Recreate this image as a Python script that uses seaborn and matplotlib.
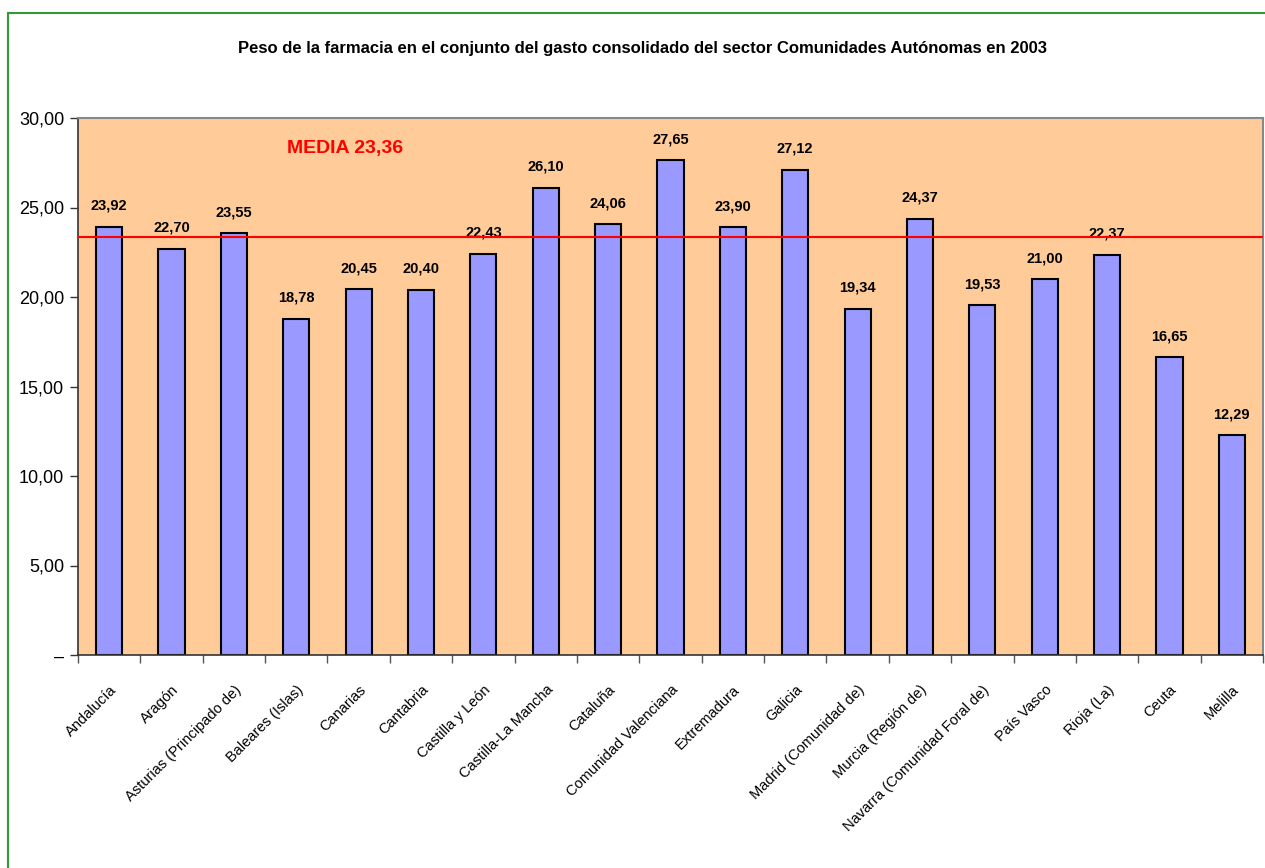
import numpy as np
import pandas as pd
import matplotlib
matplotlib.use("Agg")
import matplotlib.pyplot as plt
import matplotlib.patches as mpatches
from matplotlib.ticker import FixedLocator, FuncFormatter
import seaborn as sns

# data
regions = ["Andalucía", "Aragón", "Asturias (Principado de)", "Baleares (Islas)",
           "Canarias", "Cantabria", "Castilla y León", "Castilla-La Mancha",
           "Cataluña", "Comunidad Valenciana", "Extremadura", "Galicia",
           "Madrid (Comunidad de)", "Murcia (Región de)", "Navarra (Comunidad Foral de)",
           "País Vasco", "Rioja (La)", "Ceuta", "Melilla"]
peso = [23.92, 22.70, 23.55, 18.78, 20.45, 20.40, 22.43, 26.10, 24.06, 27.65,
        23.90, 27.12, 19.34, 24.37, 19.53, 21.00, 22.37, 16.65, 12.29]
media = 23.36
yticks = [0, 5, 10, 15, 20, 25, 30]

title = "Peso de la farmacia en el conjunto del gasto consolidado del sector Comunidades Autónomas en 2003"

df = pd.DataFrame({"region": regions, "peso": peso})

def coma(v):
    return f"{v:.2f}".replace(".", ",")

sns.set_style("white")
plt.rcParams['font.family'] = ['Liberation Sans', 'DejaVu Sans']
plt.rcParams['text.color'] = 'black'
plt.rcParams['xtick.color'] = 'black'
plt.rcParams['ytick.color'] = 'black'
plt.rcParams['axes.labelcolor'] = 'black'

fig = plt.figure(figsize=(12.65, 8.68), dpi=100)
ax = fig.add_axes([78/1265, 1-655/868, (1263-78)/1265, (655-118)/868])
ax.set_facecolor("#FFCC99")

sns.barplot(data=df, x="region", y="peso", color="#9999FF", edgecolor="black",
            linewidth=1.5, width=0.42, saturation=1, ax=ax)

n = len(regions)
ax.set_xlim(-0.5, n - 0.5)
ax.set_ylim(0, 30)

# value labels
for i, v in enumerate(peso):
    ax.annotate(coma(v), (i, v), xytext=(0, 10),
                textcoords="offset points", ha="center", va="bottom",
                fontsize=10.5, fontweight="bold", color="black")

# mean line
ax.axhline(media, color="#FF0000", lw=1.5, zorder=5)
ax.text(3.78, 28.3, f"MEDIA {coma(media)}",
        color="#FF0000", fontsize=14, fontweight="bold", ha="center", va="center")

# y axis
ax.set_yticks(yticks)
ax.yaxis.set_major_formatter(FuncFormatter(lambda v, p: "–" if v == 0 else coma(v)))
ax.tick_params(axis="y", direction="out", length=6, width=1, color="#333333",
               labelsize=13, pad=4, left=True, labelcolor="black")

# x axis: ticks between categories, labels at centres
ax.xaxis.set_major_locator(FixedLocator(np.arange(n + 1) - 0.5))
ax.xaxis.set_minor_locator(FixedLocator(np.arange(n)))
ax.set_xticklabels([], minor=False)
ax.set_xticklabels(regions, minor=True, rotation=45, ha="right",
                   rotation_mode="anchor", fontsize=10.5, color="black")
ax.tick_params(axis="x", which="major", direction="out", length=6, width=1,
               color="#555555", bottom=True)
ax.tick_params(axis="x", which="minor", length=0, pad=20)
ax.set_xlabel("")
ax.set_ylabel("")

for side in ["top", "right"]:
    ax.spines[side].set_color("#888888")
    ax.spines[side].set_linewidth(1.5)
for side in ["left", "bottom"]:
    ax.spines[side].set_color("#333333")
    ax.spines[side].set_linewidth(1.2)

fig.text(643/1265, 1-49/868, title, ha="center", va="center",
         fontsize=12, fontweight="bold", color="black")

# green frame of the chart object
fig.patches.append(mpatches.Rectangle((8/1265, -0.05), 1.1, 0.05 + 1-13/868,
                                      transform=fig.transFigure, fill=False,
                                      edgecolor="#339933", lw=1.5, clip_on=False))

fig.savefig("out.png", dpi=100)
